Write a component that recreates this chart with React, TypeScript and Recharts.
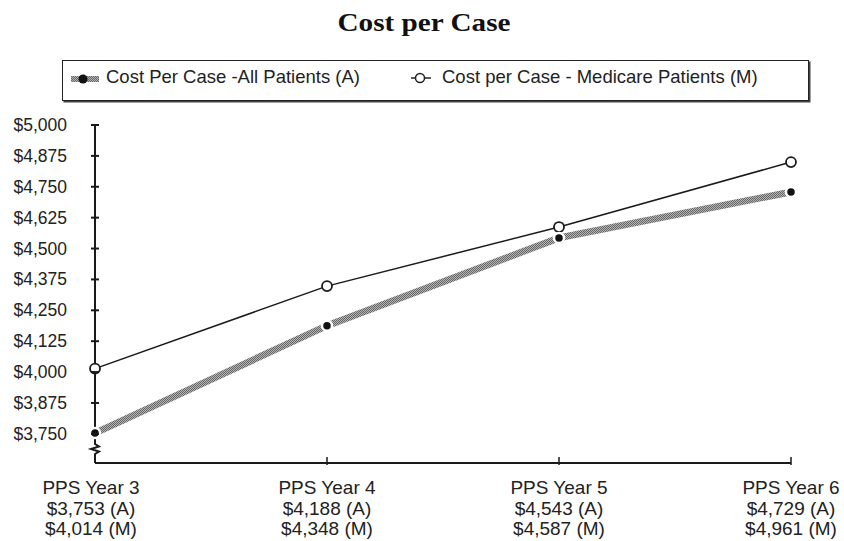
import React from 'react';
import { LineChart, Line, XAxis, YAxis, ReferenceLine } from 'recharts';

const categories = ['PPS Year 3', 'PPS Year 4', 'PPS Year 5', 'PPS Year 6'];
const allPatients = [3753, 4188, 4543, 4729];
const medicare = [4014, 4348, 4587, 4850];
const labelsA = ['$3,753 (A)', '$4,188 (A)', '$4,543 (A)', '$4,729 (A)'];
const labelsM = ['$4,014 (M)', '$4,348 (M)', '$4,587 (M)', '$4,961 (M)'];
const yTicks = [3750, 3875, 4000, 4125, 4250, 4375, 4500, 4625, 4750, 4875, 5000];
const yDomainMin = 3632;
const yDomainMax = 5000;

const data = categories.map((c, i) => ({ name: c, a: allPatients[i], m: medicare[i] }));

const FONT = '"Liberation Sans", Arial, Helvetica, sans-serif';
const fmt = (v: number) => '$' + v.toLocaleString('en-US');

const YTick = (props: any) => {
  const { x, y, payload } = props;
  return (
    <g>
      <line x1={x - 4} x2={x + 4} y1={y} y2={y} stroke="#1a1a1a" strokeWidth={2} />
      <text x={x - 28} y={y + 6} textAnchor="end" fontFamily={FONT} fontSize={17.5} fill="#222">
        {fmt(payload.value)}
      </text>
    </g>
  );
};

const XTick = (props: any) => {
  const { x, y, index } = props;
  const dx = index === 0 ? -4 : 0;
  return (
    <g>
      {index > 0 && <line x1={x} x2={x} y1={y - 6} y2={y + 2} stroke="#1a1a1a" strokeWidth={1.5} />}
      <text x={x + dx} textAnchor="middle" fontFamily={FONT} fontSize={19} fill="#222">
        <tspan x={x + dx} y={y + 31}>{categories[index]}</tspan>
        <tspan x={x + dx} y={y + 51.5}>{labelsA[index]}</tspan>
        <tspan x={x + dx} y={y + 72}>{labelsM[index]}</tspan>
      </text>
    </g>
  );
};

const AxisWithBreak = (props: any) => {
  const { x1, y1, y2 } = props;
  const top = Math.min(y1, y2);
  const bot = Math.max(y1, y2);
  const z0 = bot - 19;
  const d = `M${x1},${top} L${x1},${z0} L${x1 + 4},${z0 + 2.5} L${x1 - 4},${z0 + 5} L${x1 + 4},${z0 + 7.5} L${x1},${z0 + 10} L${x1},${bot}`;
  return <path d={d} fill="none" stroke="#1a1a1a" strokeWidth={2} />;
};

export default function App() {
  return (
    <div style={{ position: 'absolute', left: 0, top: 0, width: 844, height: 541, background: '#fff' }}>
      <svg style={{ position: 'absolute', left: 0, top: 0 }} width={844} height={50}>
        <text
          x={424}
          y={31}
          textAnchor="middle"
          fontFamily='"Liberation Serif", "Times New Roman", serif'
          fontWeight="bold"
          fontSize={25.5}
          fill="#111"
          textLength={173}
          lengthAdjust="spacingAndGlyphs"
        >
          Cost per Case
        </text>
      </svg>
      <div
        style={{
          position: 'absolute', left: 62, top: 60, width: 745, height: 39, border: '1.5px solid #222',
          boxShadow: '1.5px 1.5px 0 #444', fontFamily: FONT, fontSize: 18.5, color: '#222',
        }}
      >
        <svg style={{ position: 'absolute', left: 5, top: 10 }} width={36} height={16}>
          <defs>
            <pattern id="ditherL" width="2" height="2" patternUnits="userSpaceOnUse">
              <rect width="2" height="2" fill="#b0b0b0" />
              <rect width="1" height="1" fill="#6a6a6a" />
              <rect x="1" y="1" width="1" height="1" fill="#6a6a6a" />
            </pattern>
          </defs>
          <rect x={3} y={5} width={28} height={6} fill="url(#ditherL)" />
          <circle cx={15} cy={8} r={4.5} fill="#111" />
        </svg>
        <span style={{ position: 'absolute', left: 43, top: 5 }}>Cost Per Case -All Patients (A)</span>
        <svg style={{ position: 'absolute', left: 346, top: 9 }} width={26} height={16}>
          <line x1={2} x2={22} y1={8} y2={8} stroke="#222" strokeWidth={1.5} />
          <circle cx={11} cy={8} r={4.5} fill="#fff" stroke="#222" strokeWidth={1.5} />
        </svg>
        <span style={{ position: 'absolute', left: 379, top: 5 }}>Cost per Case - Medicare Patients (M)</span>
      </div>
      <div style={{ position: 'absolute', left: 0, top: 0 }}>
        <LineChart width={844} height={541} data={data} margin={{ top: 125, right: 53, bottom: 77, left: 94 }}>
          <defs>
            <pattern id="dither" width="2" height="2" patternUnits="userSpaceOnUse">
              <rect width="2" height="2" fill="#b4b4b4" />
              <rect width="1" height="1" fill="#666" />
              <rect x="1" y="1" width="1" height="1" fill="#666" />
            </pattern>
          </defs>
          <XAxis
            dataKey="name"
            height={1}
            interval={0}
            padding={{ left: 0, right: 0 }}
            tickLine={false}
            tickSize={0}
            tickMargin={0}
            axisLine={{ stroke: '#1a1a1a', strokeWidth: 2 }}
            tick={<XTick />}
          />
          <YAxis
            type="number"
            width={1}
            domain={[yDomainMin, yDomainMax]}
            ticks={yTicks}
            interval={0}
            allowDataOverflow
            axisLine={false}
            tickLine={false}
            tickSize={0}
            tickMargin={0}
            tick={<YTick />}
          />
          <ReferenceLine
            segment={[{ x: categories[0], y: yDomainMax }, { x: categories[0], y: yDomainMin }]}
            shape={<AxisWithBreak />}
            ifOverflow="visible"
          />
          <Line
            type="linear"
            dataKey="m"
            stroke="#1a1a1a"
            strokeWidth={1.5}
            dot={{ r: 5, fill: '#fff', stroke: '#1a1a1a', strokeWidth: 1.8 }}
            isAnimationActive={false}
          />
          <Line
            type="linear"
            dataKey="a"
            stroke="url(#dither)"
            strokeWidth={7}
            dot={{ r: 5, fill: '#111', stroke: '#fff', strokeWidth: 2.5 }}
            isAnimationActive={false}
          />
        </LineChart>
      </div>
    </div>
  );
}
